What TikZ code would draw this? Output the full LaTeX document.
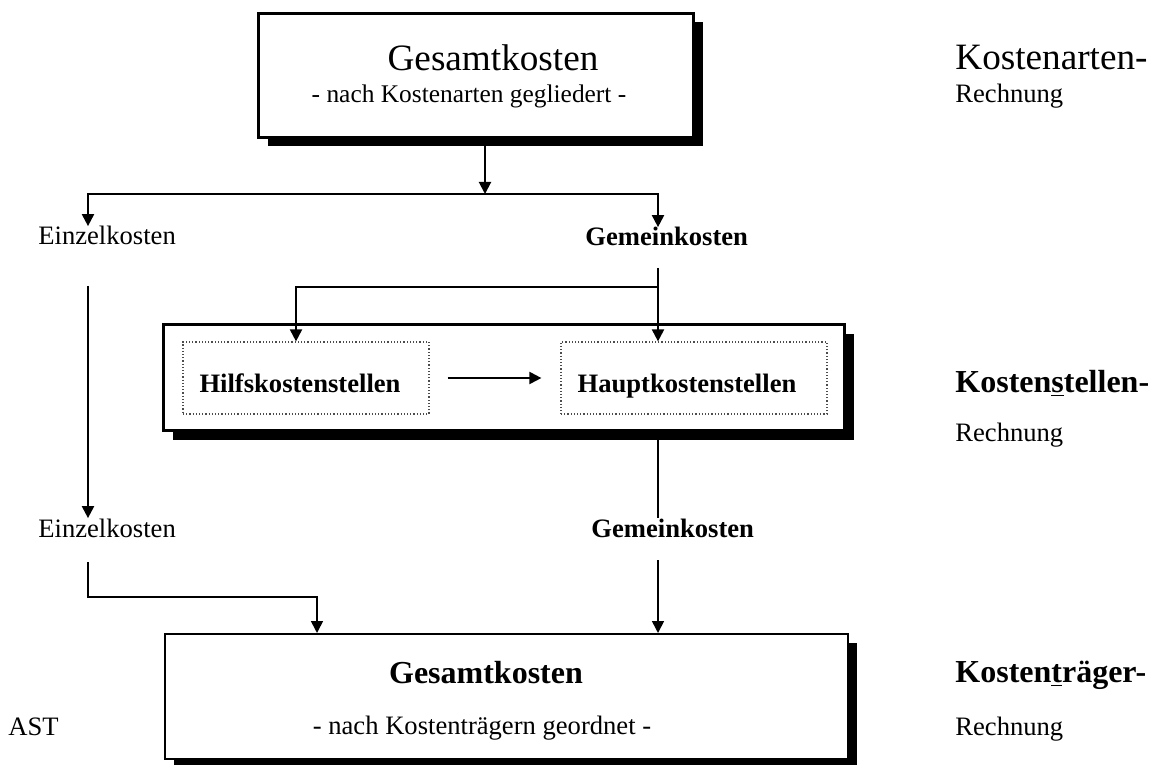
\documentclass[tikz,border=0pt]{standalone}
\usepackage{fontspec}
\setmainfont{Liberation Serif}
\usetikzlibrary{arrows.meta,shadows}
\tikzset{
  costbox/.style={
    draw=black,
    line width=1.5pt,
    fill=white,
    inner sep=0pt,
    drop shadow={shadow xshift=4.5pt, shadow yshift=-4.5pt, fill=black, opacity=1}
  },
  dotbox/.style={draw=black!70, densely dotted, line width=0.6pt, inner sep=0pt},
  txt/.style={inner sep=0pt, font=\fontsize{13.3}{16}\selectfont},
  bigtxt/.style={inner sep=0pt, font=\fontsize{18.6}{22}\selectfont},
  boldtxt/.style={inner sep=0pt, font=\fontsize{13.3}{16}\selectfont\bfseries},
  bighead/.style={inner sep=0pt, font=\fontsize{16}{19}\selectfont\bfseries},
  conn/.style={line width=1pt},
  arrow/.style={conn, -{Triangle[length=6pt,width=6pt]}}
}
\begin{document}
\begin{tikzpicture}[x=0.5pt, y=-0.5pt]
        \useasboundingbox (0,0) rectangle (1154,764);
        \coordinate (ekcol) at (88,0);
        \coordinate (gkcol) at (658,0);
        % Kostenartenrechnung
        \node[costbox, minimum width=217.5pt, minimum height=62pt] (artbox) at (476,75.5) {};
        \node[bigtxt, anchor=base] (arttitle) at (493,71) {Gesamtkosten};
        \node[txt, font=\fontsize{12.7}{15}\selectfont, anchor=base] (artsub) at (469,103) {- nach Kostenarten gegliedert -};
        \node[bigtxt, anchor=base west] (arthead) at (955,70) {Kostenarten-};
        \node[txt, anchor=base west] (artrech) at (955,103) {Rechnung};
        \coordinate (split) at (485,194);
        \draw[arrow] (split |- artbox.south) -- (split);
        \node[txt, anchor=base west] (ek1) at (38,245) {Einzelkosten};
        \node[boldtxt, anchor=base west] (gk1) at (585,246) {Gemeinkosten};
        \draw[arrow] (split) -| (ekcol |- ek1.north);
        \draw[arrow] (split) -| (gkcol |- gk1.north);
        % Kostenstellenrechnung
        \node[costbox, minimum width=340.5pt, minimum height=53pt] (stbox) at (504,377.5) {};
        \node[dotbox, minimum width=123pt, minimum height=36pt] (hilf) at (306,378) {};
        \node[dotbox, minimum width=133pt, minimum height=36pt] (haupt) at (694,378) {};
        \node[boldtxt, anchor=base] (hilftxt) at (300,392) {Hilfskostenstellen};
        \node[boldtxt, anchor=base] (haupttxt) at (687,392) {Hauptkostenstellen};
        \node[bighead, anchor=base west] (sthead) at (955,392) {Kosten\underline{s}tellen-};
        \node[txt, anchor=base west] (strech) at (955,441) {Rechnung};
        \coordinate (gkdown) at (658,268);
        \coordinate (fork) at (658,287);
        \draw[conn] (gkdown) -- (fork);
        \draw[arrow] (fork) -| ([xshift=-5pt]hilf.north);
        \draw[arrow] (fork) -- (gkcol |- haupt.north);
        \draw[arrow] ([xshift=9pt]hilf.east) -- ([xshift=-9.5pt]haupt.west);
        \coordinate (ekdown) at (88,286);
        \node[txt, anchor=base west] (ek2) at (38,537) {Einzelkosten};
        \draw[arrow] (ekdown) -- (ekcol |- ek2.north);
        \node[boldtxt, anchor=base west] (gk2) at (591,537) {Gemeinkosten};
        \draw[conn] (gkcol |- stbox.south) -- (gkcol |- gk2.north);
        % Kostentraegerrechnung
        \node[costbox, line width=1pt, minimum width=341.5pt, minimum height=62.5pt] (trbox) at (506.5,696.5) {};
        \node[bighead, anchor=base] (trtitle) at (486,683) {Gesamtkosten};
        \node[txt, anchor=base] (trsub) at (482,734) {- nach Kostenträgern geordnet -};
        \node[bighead, anchor=base west] (trhead) at (955,682) {Kosten\underline{t}räger-};
        \node[txt, anchor=base west] (trrech) at (955,735) {Rechnung};
        \node[txt, anchor=base west] (ast) at (8,735) {AST};
        \coordinate (ekbottom) at (88,562);
        \coordinate (lbend) at (317,597);
        \coordinate (gkbottom) at (658,560);
        \draw[arrow, line width=0.8pt] (ekbottom) |- (lbend) -- (lbend |- trbox.north);
        \draw[arrow, line width=0.8pt] (gkbottom) -- (gkcol |- trbox.north);
      \end{tikzpicture}
\end{document}
